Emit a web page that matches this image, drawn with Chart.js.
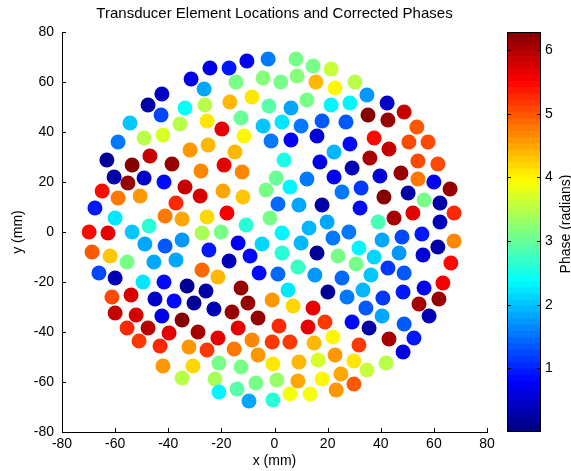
<!DOCTYPE html>
<html>
<head>
<meta charset="utf-8">
<script src="https://cdn.jsdelivr.net/npm/chart.js@4.4.0/dist/chart.umd.min.js"></script>
<style>
  html, body { margin: 0; padding: 0; background: #fff; }
  #wrap { position: relative; width: 571px; height: 471px; }
  #main { position: absolute; left: 0; top: 0; }
  #cbar { position: absolute; left: 490px; top: 0; }
</style>
</head>
<body>
<div id="wrap">
  <canvas id="main" width="549" height="471"></canvas>
  <canvas id="cbar" width="81" height="471"></canvas>
</div>
<script>
/******** data: element positions (mm) and corrected phase (rad) ********/
const X_MM = [
  -31.4,-26.5,-42.4,-47.6,-33.7,-26.2,-42.7,-54.4,-35.6,-25.4,-58.9,-49.1,-42.0,-31.8,-25.0,-63.1,-46.9,-53.6,-38.6,
  -24.3,-17.1,-10.4,-2.4,8.1,14.5,21.3,-14.5,-4.3,2.4,8.5,15.6,22.8,-16.8,-8.5,-2.1,6.2,12.2,21.3,-12.6,-4.3,2.8,10.0,17.9,-19.8,-11.5,-1.3,6.2,16.0,-14.9,22.4,3.6,17.1,-19.0,-12.2,
  30.3,34.8,42.4,48.8,28.4,35.2,42.7,53.6,26.9,37.5,50.6,57.8,28.4,43.1,35.9,54.0,61.5,29.2,
  39.7,47.6,54.0,60.0,66.1,25.4,32.6,41.2,50.3,56.3,62.3,32.2,39.0,45.0,52.1,62.3,67.6,28.0,40.5,48.0,55.5,67.6,31.8,37.5,46.9,55.9,61.5,30.7,42.7,48.8,66.4,25.4,36.3,63.4,
  -60.4,-55.2,-49.1,-41.6,-27.7,-64.9,-58.9,-50.6,-33.7,-28.0,-37.1,-67.6,-60.0,-41.2,-34.8,-25.4,-69.8,-62.7,-53.6,-47.2,-27.3,-48.8,-41.2,-34.8,-24.7,-68.7,-61.9,-55.5,-45.4,-37.1,-66.1,-60.0,-49.5,-41.6,-32.9,-27.3,
  0.6,12.2,22.4,-19.4,-11.9,-3.2,5.8,1.3,9.2,17.9,-17.9,-1.7,-10.7,19.8,-20.1,2.8,13.0,22.0,-13.7,-4.7,10.0,-17.1,-9.2,2.8,16.0,23.9,-21.3,-5.8,1.3,8.8,15.2,
  -25.8,-61.2,-54.0,-45.0,-37.8,-30.3,-60.0,-52.1,-42.4,-34.8,-55.5,-47.6,-39.7,-28.8,-51.0,-43.1,-32.2,-25.4,-42.0,-30.7,-34.8,
  -12.6,5.1,20.1,-22.8,-16.0,-10.0,-0.9,7.0,14.5,-6.2,-13.7,1.7,12.6,19.0,-21.3,-8.5,-0.9,5.8,14.9,22.0,-15.2,-6.2,-0.6,9.2,16.4,22.8,-20.9,-12.6,-22.4,-7.0,0.9,8.8,17.9,25.0,-20.9,-14.1,-9.6,-0.6,5.8,13.4,23.2,
  33.3,48.4,56.3,27.3,40.8,54.4,61.9,34.4,40.5,58.2,29.2,35.6,48.8,43.1,52.5,31.8,48.4,29.9,42.0,34.8,29.9
];
const Y_MM = [
  61.2,57.2,55.2,50.8,49.6,50.8,46.8,43.6,43.2,44.4,36.0,37.6,38.8,32.8,34.8,28.8,30.4,26.8,27.2,
  65.6,65.6,68.4,69.2,69.2,66.4,65.2,60.0,61.6,60.0,62.4,60.0,57.6,52.0,54.0,50.4,49.6,52.8,50.8,45.6,42.4,44.0,42.4,44.4,41.2,38.4,36.4,36.8,38.4,32.0,32.0,28.8,28.0,26.8,24.0,
  60.0,54.8,51.6,48.0,51.6,46.8,44.8,42.0,44.0,37.6,36.0,36.0,35.2,33.2,29.6,28.4,27.2,25.6,
  22.4,23.6,21.2,20.0,17.2,16.0,17.6,14.0,15.6,12.8,11.6,9.6,4.0,5.6,7.6,4.0,7.6,0.0,-3.2,-2.0,-0.8,-3.6,-6.4,-10.0,-8.4,-9.2,-6.0,-12.8,-14.4,-16.4,-12.4,-18.4,-17.2,-20.4,
  22.0,19.6,21.6,20.0,24.4,16.4,13.6,14.4,18.0,14.4,11.6,9.6,5.6,6.4,5.2,6.0,0.0,-0.4,0.0,2.4,-0.4,-4.8,-5.6,-3.2,-7.2,-8.0,-9.6,-12.0,-12.0,-11.2,-16.4,-18.4,-20.0,-20.0,-21.6,-15.2,
  21.6,21.2,22.0,16.4,14.0,16.8,18.0,11.2,10.8,10.8,7.6,5.6,2.8,4.0,0.0,-0.4,1.6,-2.4,-4.4,-4.8,-4.4,-11.6,-9.6,-8.4,-8.4,-9.6,-18.0,-16.4,-16.8,-14.0,-17.2,
  -23.6,-26.0,-25.2,-26.8,-27.6,-28.4,-32.4,-33.2,-33.6,-35.2,-38.4,-38.4,-40.4,-40.0,-43.6,-45.6,-46.0,-47.2,-53.6,-53.6,-58.4,
  -22.4,-23.2,-24.0,-30.8,-32.0,-28.4,-27.2,-29.6,-30.4,-34.4,-38.4,-37.6,-38.0,-36.0,-42.4,-43.2,-44.0,-44.0,-44.4,-42.0,-46.8,-49.2,-52.8,-52.0,-51.2,-49.2,-52.4,-54.0,-58.8,-60.4,-59.2,-59.6,-58.8,-56.8,-64.0,-62.8,-67.6,-67.2,-64.8,-64.8,-63.2,
  -23.2,-24.0,-22.4,-26.0,-26.4,-28.8,-26.8,-30.4,-33.6,-33.6,-36.0,-38.4,-36.8,-42.8,-42.4,-45.2,-48.0,-51.6,-52.4,-55.2,-60.8
];
const PHASE = [
  0.6,1.77,0.45,0.2,2.36,3.5,1.27,2.0,3.45,4.05,1.52,3.45,3.7,4.52,4.32,0.1,5.89,6.25,6.12,
  0.65,0.9,0.7,1.57,3.14,3.14,3.63,3.1,3.2,3.14,3.2,4.32,3.93,4.37,4.07,2.85,1.82,3.05,2.33,2.95,2.0,2.2,1.57,1.37,5.65,3.99,1.57,0.7,0.5,4.37,1.96,2.55,0.6,5.6,4.71,
  3.45,1.67,0.45,5.85,2.28,6.25,6.15,4.91,1.37,5.4,5.1,5.06,0.83,5.85,5.99,5.1,5.1,0.3,
  0.5,6.15,4.81,0.7,6.15,1.57,1.08,6.25,0.2,3.14,0.2,0.83,2.75,5.99,5.69,0.3,5.3,1.57,1.82,1.18,0.98,4.71,2.28,2.1,1.67,0.55,0.2,3.05,1.08,1.37,5.4,1.47,2.06,5.5,
  0.25,6.15,0.45,0.83,4.71,5.4,4.81,4.6,5.85,5.75,5.3,0.98,2.2,4.81,4.42,4.22,5.4,5.65,2.0,2.6,3.34,1.82,1.37,1.67,0.98,5.0,4.27,3.05,1.77,1.77,1.18,0.3,2.2,0.83,0.1,4.86,
  2.95,1.57,0.7,4.42,4.27,3.05,2.28,1.47,1.82,0.2,5.5,3.14,2.6,1.82,3.14,2.28,1.96,1.57,0.7,2.1,1.96,0.3,0.83,2.65,0.1,3.14,4.32,0.83,1.47,2.72,1.67,
  0.2,5.1,5.75,0.4,0.83,0.15,5.85,5.75,0.6,6.25,5.3,5.95,5.65,6.05,5.2,5.3,4.6,5.2,4.52,4.22,3.45,
  6.15,2.2,0.1,0.3,6.09,6.09,4.52,4.17,5.6,6.09,5.69,5.3,5.6,5.11,5.65,4.71,5.11,5.2,4.32,3.93,4.81,4.52,4.12,4.37,3.73,4.6,3.14,3.14,3.34,3.05,3.24,4.42,3.93,4.42,2.28,2.85,1.82,2.65,3.83,3.83,4.52,
  1.9,0.98,0.7,1.57,1.08,6.05,6.15,1.37,1.86,0.3,0.83,0.2,1.37,6.05,0.98,5.2,0.6,4.07,3.45,3.63,4.91
];

const TITLE = 'Transducer Element Locations and Corrected Phases';
const X_LABEL = 'x (mm)';
const Y_LABEL = 'y (mm)';
const CBAR_LABEL = 'Phase (radians)';
const AXIS_TICKS = [-80, -60, -40, -20, 0, 20, 40, 60, 80];
const CBAR_TICKS = [1, 2, 3, 4, 5, 6];

const TWO_PI = 2 * Math.PI;
const LEVELS = 64;

/******** colour map (jet, 64 levels) ********/
function clamp(v) { return Math.max(0, Math.min(1, v)); }
function jet(t) {
  const r = clamp(1.5 - Math.abs(4 * t - 3));
  const g = clamp(1.5 - Math.abs(4 * t - 2));
  const b = clamp(1.5 - Math.abs(4 * t - 1));
  return 'rgb(' + Math.round(r * 255) + ',' + Math.round(g * 255) + ',' + Math.round(b * 255) + ')';
}
function phaseColor(p) {
  const idx = Math.min(LEVELS - 1, Math.max(0, Math.floor(p / TWO_PI * LEVELS)));
  return jet((idx + 0.5) / LEVELS);
}

const FONT = '"Liberation Sans", Arial, Helvetica, sans-serif';
Chart.defaults.font.family = FONT;
Chart.defaults.color = '#000';

// MATLAB-style ticks that point into the axes
const inwardTicks = {
  id: 'inwardTicks',
  afterDraw(chart) {
    const ctx = chart.ctx;
    const area = chart.chartArea;
    const sx = chart.scales.x, sy = chart.scales.y;
    ctx.save();
    ctx.strokeStyle = '#000';
    ctx.lineWidth = 1;
    ctx.beginPath();
    sx.ticks.forEach(t => {
      const px = Math.round(sx.getPixelForValue(t.value)) + 0.5;
      ctx.moveTo(px, area.bottom);
      ctx.lineTo(px, area.bottom - 4);
    });
    sy.ticks.forEach(t => {
      const py = Math.round(sy.getPixelForValue(t.value)) + 0.5;
      ctx.moveTo(area.left, py);
      ctx.lineTo(area.left + 4, py);
    });
    ctx.stroke();
    ctx.restore();
  }
};

const colors = PHASE.map(phaseColor);

new Chart(document.getElementById('main'), {
  type: 'scatter',
  data: {
    datasets: [{
      data: X_MM.map((x, i) => ({ x: x, y: Y_MM[i] })),
      pointRadius: 7.5,
      pointHoverRadius: 7.5,
      pointBorderWidth: 0,
      borderWidth: 0,
      pointBackgroundColor: colors,
      pointBorderColor: colors
    }]
  },
  options: {
    responsive: false,
    animation: false,
    events: [],
    layout: { padding: 0 },
    plugins: {
      legend: { display: false },
      tooltip: { enabled: false },
      title: {
        display: true,
        text: TITLE,
        color: '#000',
        font: { size: 15, weight: 'normal' },
        padding: { top: 5, bottom: 9 }
      }
    },
    scales: {
      x: {
        type: 'linear',
        min: -80, max: 80,
        afterBuildTicks(s) { s.ticks = AXIS_TICKS.map(v => ({ value: v })); },
        ticks: { font: { size: 14 }, padding: 4, maxRotation: 0, color: '#000' },
        grid: { drawOnChartArea: false, drawTicks: false },
        border: { display: true, color: '#000', width: 1 },
        title: { display: true, text: X_LABEL, color: '#000', font: { size: 14 }, padding: { top: 0, bottom: 1 } },
        afterFit(s) { s.height = 39; }
      },
      y: {
        type: 'linear',
        position: 'left',
        min: -80, max: 80,
        afterBuildTicks(s) { s.ticks = AXIS_TICKS.map(v => ({ value: v })); },
        ticks: { font: { size: 14 }, padding: 8, color: '#000' },
        grid: { drawOnChartArea: false, drawTicks: false },
        border: { display: true, color: '#000', width: 1 },
        title: { display: true, text: Y_LABEL, color: '#000', font: { size: 14 }, padding: { top: 10, bottom: 0 } },
        afterFit(s) { s.width = 62; }
      },
      // empty right-hand box so the title centres over the axes
      y2: {
        type: 'linear',
        position: 'right',
        min: 0, max: 1,
        ticks: { display: false },
        grid: { display: false, drawTicks: false },
        border: { display: false },
        afterFit(s) { s.width = 62; }
      }
    }
  },
  plugins: [inwardTicks]
});

/******** colour bar ********/
const cbarFrame = {
  id: 'cbarFrame',
  afterDraw(chart) {
    const ctx = chart.ctx;
    const a = chart.chartArea;
    const sy = chart.scales.y;
    ctx.save();
    ctx.strokeStyle = '#000';
    ctx.lineWidth = 1;
    ctx.strokeRect(Math.round(a.left) + 0.5, Math.round(a.top) + 0.5,
                   Math.round(a.right - a.left) - 1, Math.round(a.bottom - a.top) - 1);
    ctx.beginPath();
    CBAR_TICKS.forEach(v => {
      const py = Math.round(sy.getPixelForValue(v)) + 0.5;
      ctx.moveTo(a.left, py); ctx.lineTo(a.left + 4, py);
      ctx.moveTo(a.right, py); ctx.lineTo(a.right - 4, py);
    });
    ctx.stroke();
    ctx.translate(76, (a.top + a.bottom) / 2 - 8);
    ctx.rotate(-Math.PI / 2);
    ctx.font = '14px ' + FONT;
    ctx.fillStyle = '#000';
    ctx.textAlign = 'center';
    ctx.textBaseline = 'middle';
    ctx.fillText(CBAR_LABEL, 0, 0);
    ctx.restore();
  }
};

const step = TWO_PI / LEVELS;
const cbarSets = [];
for (let i = 0; i < LEVELS; i++) {
  cbarSets.push({
    data: [[i * step, Math.min(TWO_PI, (i + 1) * step + 0.01)]],
    backgroundColor: jet((i + 0.5) / LEVELS),
    borderWidth: 0,
    grouped: false,
    barPercentage: 1,
    categoryPercentage: 1
  });
}

new Chart(document.getElementById('cbar'), {
  type: 'bar',
  data: { labels: [''], datasets: cbarSets },
  options: {
    responsive: false,
    animation: false,
    events: [],
    layout: { padding: { left: 17, top: 32, bottom: 39, right: 0 } },
    plugins: { legend: { display: false }, tooltip: { enabled: false } },
    scales: {
      x: { display: false },
      y: {
        position: 'right',
        min: 0, max: TWO_PI,
        afterBuildTicks(s) { s.ticks = CBAR_TICKS.map(v => ({ value: v })); },
        ticks: { font: { size: 14 }, padding: 4, color: '#000' },
        grid: { drawOnChartArea: false, drawTicks: false },
        border: { display: false },
        afterFit(s) { s.width = 30; }
      }
    }
  },
  plugins: [cbarFrame]
});
</script>
</body>
</html>
